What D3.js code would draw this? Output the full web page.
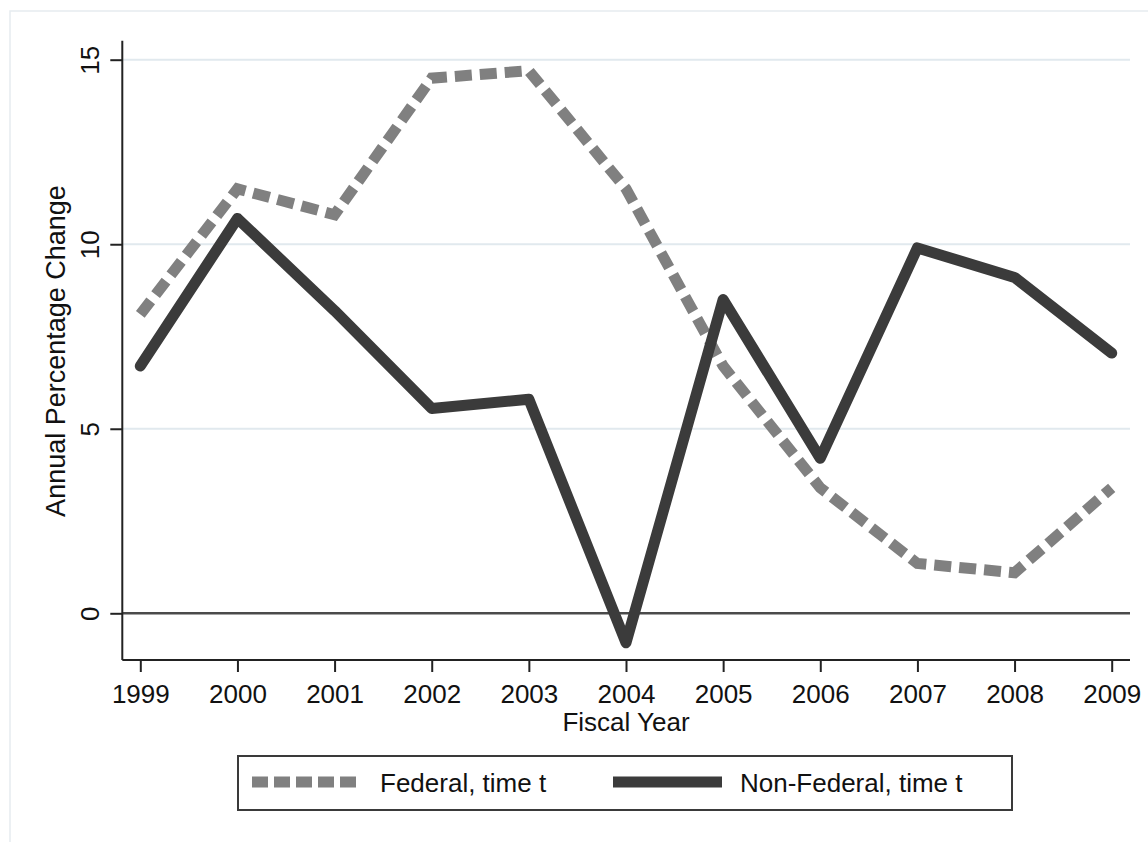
<!DOCTYPE html>
<html>
<head>
<meta charset="utf-8">
<script src="https://cdn.jsdelivr.net/npm/d3@7/dist/d3.min.js"></script>
<style>
  html, body { margin: 0; padding: 0; background: #ffffff; }
  svg { display: block; }
  text { font-family: "Liberation Sans", Arial, Helvetica, sans-serif; fill: #111; }
</style>
</head>
<body>
<svg id="chart" width="1148" height="842"></svg>
<script>
// ---- data ----
const years = [1999, 2000, 2001, 2002, 2003, 2004, 2005, 2006, 2007, 2008, 2009];
const federal = [8.1, 11.5, 10.8, 14.5, 14.7, 11.5, 6.7, 3.4, 1.35, 1.1, 3.4];
const nonFederal = [6.7, 10.7, 8.2, 5.55, 5.8, -0.8, 8.5, 4.2, 9.9, 9.1, 7.05];
const yTicks = [0, 5, 10, 15];
const seriesNames = ["Federal, time t", "Non-Federal, time t"];
const xTitle = "Fiscal Year";
const yTitle = "Annual Percentage Change";

// ---- layout ----
const svg = d3.select("#chart");
const plotLeft = 122.3, plotRight = 1130, plotTop = 40.7, plotBottom = 660;

const x = d3.scaleLinear().domain([1999, 2009]).range([140.3, 1111.7]);
const y = d3.scaleLinear().domain([0, 15]).range([613.3, 59.7]);

const fedColor = "#808080";
const nonFedColor = "#3b3b3b";
const lineW = 11;
const dash = "17,8";

// outer frame
svg.append("rect")
  .attr("x", 10).attr("y", 11).attr("width", 1150).attr("height", 845)
  .attr("fill", "none").attr("stroke", "#e6ecf0").attr("stroke-width", 1.5);

// gridlines
svg.append("g").selectAll("line")
  .data(yTicks.filter(d => d !== 0))
  .join("line")
  .attr("x1", plotLeft).attr("x2", plotRight)
  .attr("y1", d => y(d)).attr("y2", d => y(d))
  .attr("stroke", "#e1e9ee").attr("stroke-width", 2);

// zero line
svg.append("line")
  .attr("x1", plotLeft).attr("x2", plotRight)
  .attr("y1", y(0)).attr("y2", y(0))
  .attr("stroke", "#4a4a4a").attr("stroke-width", 2.5);

// x axis
const xAxis = d3.axisBottom(x).tickValues(years).tickFormat(d3.format("d"))
  .tickSize(12).tickPadding(13).tickSizeOuter(0);
const gx = svg.append("g").attr("transform", `translate(0,${plotBottom})`).call(xAxis);
gx.select(".domain").remove();
gx.selectAll(".tick line").attr("stroke", "#222").attr("stroke-width", 2);
gx.selectAll(".tick text").attr("font-size", 26).attr("fill", "#111")
  .attr("font-family", "Liberation Sans, Arial, sans-serif");
svg.append("line")
  .attr("x1", plotLeft).attr("x2", plotRight)
  .attr("y1", plotBottom).attr("y2", plotBottom)
  .attr("stroke", "#222").attr("stroke-width", 2);

// y axis
const yAxis = d3.axisLeft(y).tickValues(yTicks).tickFormat(d3.format("d"))
  .tickSize(12).tickSizeOuter(0);
const gy = svg.append("g").attr("transform", `translate(${plotLeft},0)`).call(yAxis);
gy.select(".domain").remove();
gy.selectAll(".tick line").attr("stroke", "#222").attr("stroke-width", 2);
gy.selectAll(".tick text")
  .attr("x", null).attr("dy", null)
  .attr("font-size", 26).attr("fill", "#111")
  .attr("font-family", "Liberation Sans, Arial, sans-serif")
  .attr("text-anchor", "middle")
  .attr("transform", "translate(-23,0) rotate(-90)");
svg.append("line")
  .attr("x1", plotLeft).attr("x2", plotLeft)
  .attr("y1", plotTop).attr("y2", plotBottom)
  .attr("stroke", "#222").attr("stroke-width", 2);

// axis titles
svg.append("text")
  .attr("x", 626).attr("y", 731)
  .attr("text-anchor", "middle").attr("font-size", 26)
  .text(xTitle);
svg.append("text")
  .attr("transform", "translate(65,351) rotate(-90)")
  .attr("text-anchor", "middle").attr("font-size", 27)
  .text(yTitle);

// lines
const line = d3.line().x((d, i) => x(years[i])).y(d => y(d));

svg.append("path")
  .datum(federal)
  .attr("d", line)
  .attr("fill", "none")
  .attr("stroke", fedColor)
  .attr("stroke-width", lineW)
  .attr("stroke-dasharray", dash)
  .attr("stroke-linejoin", "miter");

svg.append("path")
  .datum(nonFederal)
  .attr("d", line)
  .attr("fill", "none")
  .attr("stroke", nonFedColor)
  .attr("stroke-width", lineW)
  .attr("stroke-linejoin", "round")
  .attr("stroke-linecap", "round");

// legend
const lg = svg.append("g");
lg.append("rect")
  .attr("x", 238).attr("y", 756).attr("width", 774).attr("height", 54)
  .attr("fill", "#fff").attr("stroke", "#3a3a3a").attr("stroke-width", 2);
lg.append("line")
  .attr("x1", 252).attr("x2", 357).attr("y1", 782).attr("y2", 782)
  .attr("stroke", fedColor).attr("stroke-width", lineW).attr("stroke-dasharray", "16,6");
lg.append("text")
  .attr("x", 380).attr("y", 792).attr("font-size", 26).text(seriesNames[0]);
lg.append("line")
  .attr("x1", 613).attr("x2", 722).attr("y1", 782).attr("y2", 782)
  .attr("stroke", nonFedColor).attr("stroke-width", lineW);
lg.append("text")
  .attr("x", 740).attr("y", 792).attr("font-size", 26).text(seriesNames[1]);
</script>
</body>
</html>
